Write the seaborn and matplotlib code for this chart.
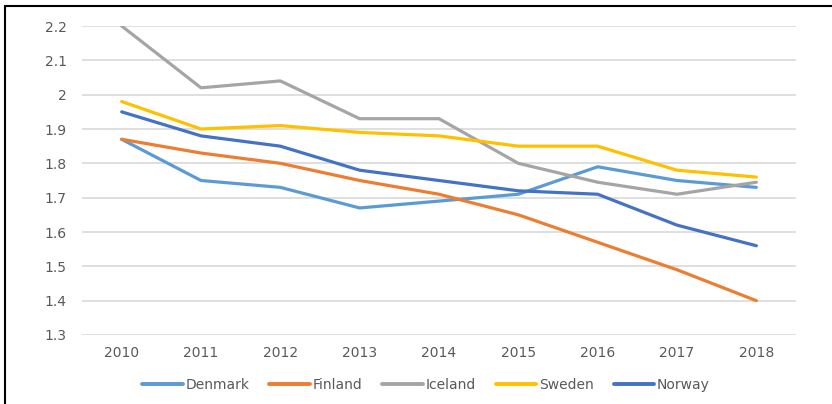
import pandas as pd
import matplotlib.pyplot as plt
import matplotlib.lines as mlines
import seaborn as sns

# Data
years = [2010, 2011, 2012, 2013, 2014, 2015, 2016, 2017, 2018]
denmark = [1.87, 1.75, 1.73, 1.67, 1.69, 1.71, 1.79, 1.75, 1.73]
finland = [1.87, 1.83, 1.80, 1.75, 1.71, 1.65, 1.57, 1.49, 1.40]
iceland = [2.20, 2.02, 2.04, 1.93, 1.93, 1.80, 1.745, 1.71, 1.745]
sweden = [1.98, 1.90, 1.91, 1.89, 1.88, 1.85, 1.85, 1.78, 1.76]
norway = [1.95, 1.88, 1.85, 1.78, 1.75, 1.72, 1.71, 1.62, 1.56]
countries = ['Denmark', 'Finland', 'Iceland', 'Sweden', 'Norway']
colors = ['#5B9BD5', '#ED7D31', '#A5A5A5', '#FFC000', '#4472C4']

df = pd.DataFrame({'year': years, 'Denmark': denmark, 'Finland': finland,
                   'Iceland': iceland, 'Sweden': sweden, 'Norway': norway})
long = df.melt(id_vars='year', var_name='country', value_name='rate')

sns.set_style('white')
plt.rcParams['font.family'] = ['DejaVu Sans']

fig = plt.figure(figsize=(8.32, 4.04), dpi=100)
ax = fig.add_axes([82 / 832, 69 / 404, 714 / 832, 309 / 404])

sns.lineplot(data=long, x='year', y='rate', hue='country', hue_order=countries,
             palette=colors, linewidth=2.3, ax=ax, legend=False)

ax.set_xlim(2009.5, 2018.5)
ax.set_ylim(1.3, 2.2)
ax.set_xticks(years)
ax.set_xticklabels([str(y) for y in years])
ax.set_yticks([1.3, 1.4, 1.5, 1.6, 1.7, 1.8, 1.9, 2.0, 2.1, 2.2])
ax.set_yticklabels(['1.3', '1.4', '1.5', '1.6', '1.7', '1.8', '1.9', '2', '2.1', '2.2'])
ax.yaxis.grid(True, color='#D9D9D9', linewidth=1.2)
ax.set_axisbelow(True)
for s in ax.spines.values():
    s.set_visible(False)
ax.tick_params(axis='both', length=0, labelsize=10, colors='#595959')
ax.tick_params(axis='x', pad=8)
ax.tick_params(axis='y', pad=11)
ax.set_xlabel('')
ax.set_ylabel('')

handles = [mlines.Line2D([], [], color=c, linewidth=2.8) for c in colors]
fig.legend(handles, countries, loc='center', bbox_to_anchor=(0.512, 19 / 404),
           ncol=5, frameon=False, fontsize=10, handlelength=2.9, handletextpad=0.2,
           columnspacing=1.45, labelcolor='#595959')

# frame lines on left and top like the source image
fig.add_artist(mlines.Line2D([5 / 832, 5 / 832], [0, 1 - 6 / 404], color='black', linewidth=1.5))
fig.add_artist(mlines.Line2D([5 / 832, 1], [1 - 6 / 404, 1 - 6 / 404], color='black', linewidth=1.5))

fig.savefig('out.png', dpi=100)
